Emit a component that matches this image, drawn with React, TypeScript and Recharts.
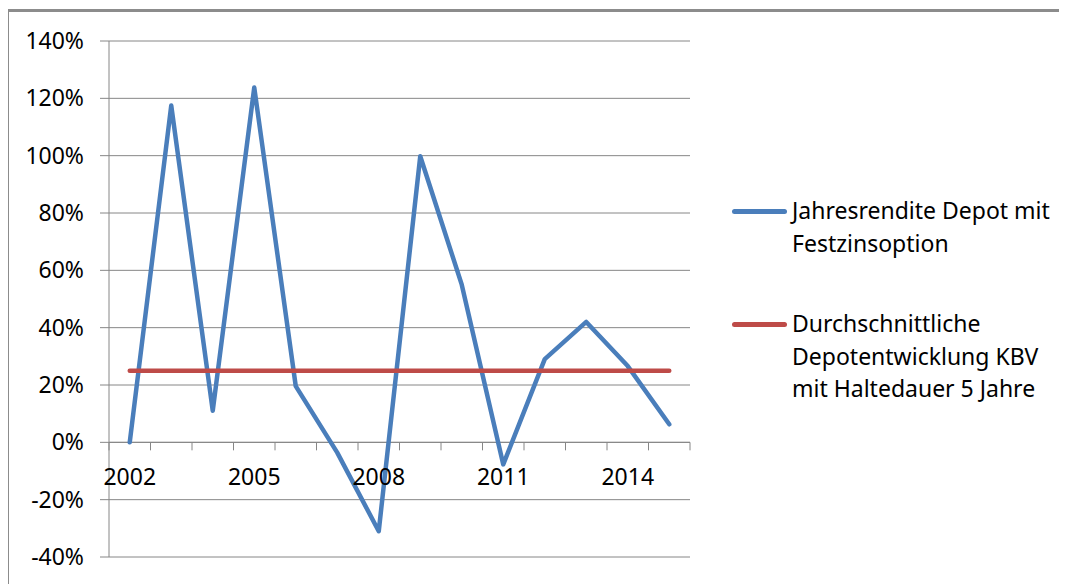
import React from "react";
import {
  ComposedChart,
  Line,
  XAxis,
  YAxis,
  CartesianGrid,
  ReferenceLine,
} from "recharts";

const YEARS = [
  "2002", "2003", "2004", "2005", "2006", "2007", "2008",
  "2009", "2010", "2011", "2012", "2013", "2014", "2015",
];
const RENDITE = [0, 117.5, 11, 123.8, 19.6, -3.6, -31, 99.8, 55, -7.7, 29, 42, 26.6, 6.3];
const AVERAGE = [25, 25, 25, 25, 25, 25, 25, 25, 25, 25, 25, 25, 25, 25];
const Y_TICKS = [-40, -20, 0, 20, 40, 60, 80, 100, 120, 140];

const NAME_RENDITE = "Jahresrendite Depot mit\nFestzinsoption";
const NAME_AVERAGE = "Durchschnittliche\nDepotentwicklung KBV\nmit Haltedauer 5 Jahre";

const W = 1067;
const H = 584;
const FONT = "'Noto Sans', sans-serif";
const FONT_SIZE = 23;
const GRID = "#868686";
const BLUE = "#4a7ebb";
const RED = "#be4b48";

const SERIES = [
  { key: "rendite", name: NAME_RENDITE, color: BLUE },
  { key: "avg", name: NAME_AVERAGE, color: RED },
];

// plot box
const PLOT_LEFT = 109;
const PLOT_TOP = 41;
const PLOT_RIGHT = 690;
const PLOT_BOTTOM = 557;
const BAND = (PLOT_RIGHT - PLOT_LEFT) / YEARS.length;
const Y_MAX = Y_TICKS[Y_TICKS.length - 1];
const Y_MIN = Y_TICKS[0];
const ZERO_Y = PLOT_TOP + ((PLOT_BOTTOM - PLOT_TOP) * Y_MAX) / (Y_MAX - Y_MIN);

const data = YEARS.map((year, i) => ({
  year,
  rendite: RENDITE[i],
  avg: AVERAGE[i],
}));

function XTick(props: any) {
  const { x, index, payload } = props;
  const half = BAND / 2;
  return (
    <g>
      <line x1={x - half} x2={x - half} y1={ZERO_Y} y2={ZERO_Y + 8} stroke={GRID} />
      {index === YEARS.length - 1 && (
        <line x1={x + half} x2={x + half} y1={ZERO_Y} y2={ZERO_Y + 8} stroke={GRID} />
      )}
      {index % 3 === 0 && (
        <text
          x={x}
          y={ZERO_Y + 43}
          textAnchor="middle"
          fill="#000"
          style={{ fontFamily: FONT, fontSize: FONT_SIZE }}
        >
          {payload.value}
        </text>
      )}
    </g>
  );
}

function LegendBox() {
  return (
    <div
      style={{
        position: "absolute",
        left: 732,
        top: 194,
        width: 335,
        fontFamily: FONT,
        fontSize: FONT_SIZE,
        lineHeight: "32.5px",
        color: "#000",
      }}
    >
      {SERIES.map((s, i) => (
        <div
          key={s.key}
          style={{ display: "flex", alignItems: "flex-start", marginTop: i === 0 ? 0 : 48 }}
        >
          <div
            style={{
              width: 55,
              height: 5,
              borderRadius: 3,
              background: s.color,
              marginTop: 14.5,
              marginRight: 5,
              flexShrink: 0,
            }}
          />
          <div style={{ whiteSpace: "pre-line" }}>{s.name}</div>
        </div>
      ))}
    </div>
  );
}

export default function App() {
  return (
    <div
      style={{
        position: "relative",
        width: W,
        height: H,
        marginLeft: -8,
        marginTop: -8,
        overflow: "hidden",
        background: "#fff",
      }}
    >
      <div
        style={{
          position: "absolute",
          left: 6,
          top: 9,
          width: W + 10,
          height: H + 10,
          border: "3px solid #8c8c8c",
          boxSizing: "border-box",
        }}
      />
      <div style={{ position: "absolute", left: 0, top: 0 }}>
        <ComposedChart
          width={W}
          height={H}
          data={data}
          margin={{ top: PLOT_TOP, right: W - PLOT_RIGHT, left: 0, bottom: H - PLOT_BOTTOM - 1 }}
        >
          <CartesianGrid vertical={false} stroke={GRID} strokeWidth={1} />
          <XAxis
            dataKey="year"
            scale="band"
            interval={0}
            height={1}
            axisLine={false}
            tickLine={false}
            tick={(p: any) => <XTick {...p} />}
          />
          <YAxis
            width={PLOT_LEFT}
            domain={[Y_MIN, Y_MAX]}
            ticks={Y_TICKS}
            interval={0}
            tickFormatter={(v: number) => `${v}%`}
            axisLine={{ stroke: GRID }}
            tickLine={{ stroke: GRID }}
            tickSize={9}
            tickMargin={16}
            tick={{ fill: "#000", fontFamily: FONT, fontSize: FONT_SIZE }}
          />
          <ReferenceLine y={0} stroke={GRID} strokeWidth={1} />
          {SERIES.map((s) => (
            <Line
              key={s.key}
              type="linear"
              dataKey={s.key}
              name={s.name}
              stroke={s.color}
              strokeWidth={4.5}
              strokeLinecap="round"
              strokeLinejoin="round"
              dot={false}
              activeDot={false}
              isAnimationActive={false}
            />
          ))}
        </ComposedChart>
      </div>
      <LegendBox />
    </div>
  );
}
